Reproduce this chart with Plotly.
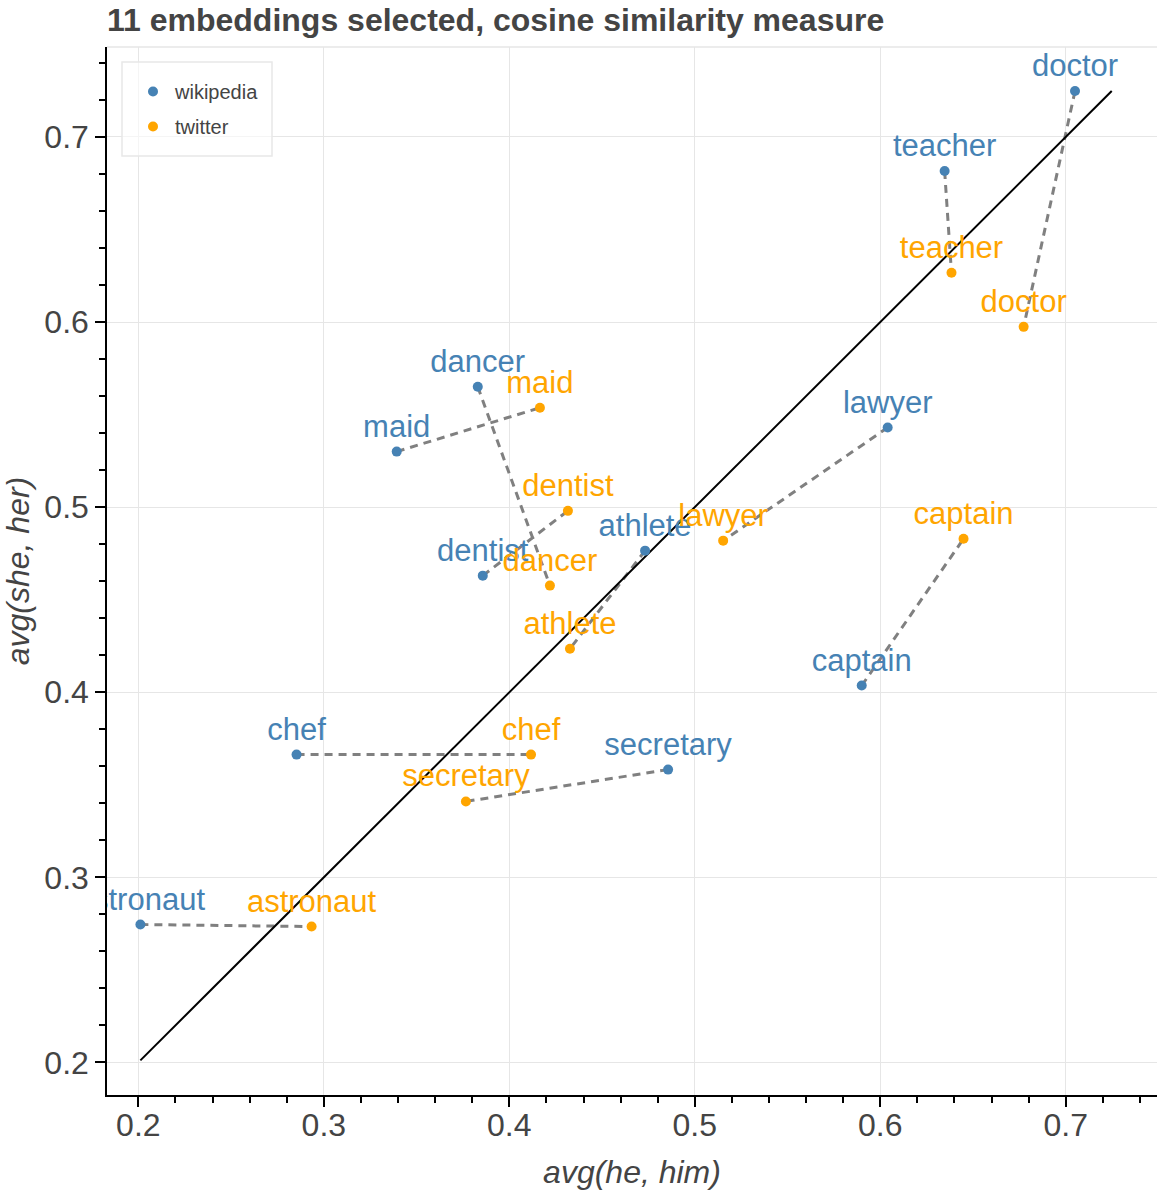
import plotly.graph_objects as go

words = ["doctor", "teacher", "dancer", "maid", "lawyer", "athlete", "dentist",
         "captain", "chef", "secretary", "astronaut"]

wiki_he = [0.705, 0.6347, 0.383, 0.3393, 0.604, 0.4732, 0.3857, 0.590, 0.2853, 0.4856, 0.2011]
wiki_she = [0.7248, 0.6816, 0.565, 0.530, 0.543, 0.4765, 0.463, 0.4036, 0.3663, 0.3582, 0.2745]

tw_he = [0.6773, 0.6384, 0.4219, 0.4165, 0.5153, 0.4327, 0.4316, 0.6449, 0.4117, 0.3766, 0.2934]
tw_she = [0.5974, 0.6266, 0.4576, 0.5537, 0.4819, 0.4235, 0.498, 0.4829, 0.3663, 0.341, 0.2734]

x_ticks = [0.2, 0.3, 0.4, 0.5, 0.6, 0.7]
y_ticks = [0.2, 0.3, 0.4, 0.5, 0.6, 0.7]

FONT = "Liberation Sans, Arial, sans-serif"
TXT = "#444444"
BLUE = "#4682b4"
ORANGE = "#ffa500"

W, H = 1157, 1194
ML, MR, MT, MB = 107, 0, 47, 99
PW, PH = W - ML - MR, H - MT - MB

# connecting segments
seg_x, seg_y = [], []
for a, b, c, d in zip(wiki_he, tw_he, wiki_she, tw_she):
    seg_x += [a, b, None]
    seg_y += [c, d, None]

allv = wiki_he + wiki_she + tw_he + tw_she
lo, hi = min(allv), max(allv)

fig = go.Figure()
fig.add_trace(go.Scatter(x=seg_x, y=seg_y, mode="lines", showlegend=False,
                         line=dict(color="#808080", width=3, dash="8px,6px"),
                         hoverinfo="skip"))
fig.add_trace(go.Scatter(x=[lo, hi], y=[lo, hi], mode="lines", showlegend=False,
                         line=dict(color="black", width=2), hoverinfo="skip"))
fig.add_trace(go.Scatter(x=wiki_he, y=wiki_she, mode="markers+text", name="wikipedia",
                         legendgroup="w",
                         text=words, textposition="top center", cliponaxis=True,
                         textfont=dict(family=FONT, size=31, color=BLUE),
                         marker=dict(color=BLUE, size=10)))
fig.add_trace(go.Scatter(x=tw_he, y=tw_she, mode="markers+text", name="twitter",
                         legendgroup="t",
                         text=words, textposition="top center", cliponaxis=True,
                         textfont=dict(family=FONT, size=31, color=ORANGE),
                         marker=dict(color=ORANGE, size=10)))

axis_common = dict(
    showgrid=True, gridcolor="#e6e6e6", gridwidth=1,
    zeroline=False, showline=True, linecolor="black", linewidth=1.5,
    ticks="outside", ticklen=10, tickwidth=1.5, tickcolor="black",
    tickfont=dict(family=FONT, size=32, color=TXT),
    minor=dict(dtick=0.02, ticks="outside", ticklen=6, tickwidth=1.5,
               tickcolor="black", showgrid=False),
)

fig.update_layout(
    width=W, height=H,
    margin=dict(l=ML, r=MR, t=MT, b=MB),
    paper_bgcolor="white", plot_bgcolor="white",
    font=dict(family=FONT, color=TXT),
    title=dict(text="<b>11 embeddings selected, cosine similarity measure</b>",
               x=ML / W, xanchor="left", xref="container",
               y=1 - 20 / H, yanchor="middle", yref="container",
               font=dict(family=FONT, size=32, color=TXT)),
    xaxis=dict(range=[0.1831, 0.7492], tickvals=x_ticks,
               ticktext=[f"{v:.1f}" for v in x_ticks],
               ticklabelstandoff=-9,
               title=dict(text="<i>avg(he, him)</i>", standoff=18,
                          font=dict(family=FONT, size=32, color=TXT)),
               **axis_common),
    yaxis=dict(range=[0.1824, 0.7486], tickvals=y_ticks,
               ticktext=[f"{v:.1f}" for v in y_ticks],
               title=dict(text="<i>avg(she, her)</i>", standoff=6,
                          font=dict(family=FONT, size=32, color=TXT)),
               **axis_common),
    legend=dict(x=(131 - ML) / PW, y=1 - (72 - MT) / PH, xanchor="left", yanchor="top",
                bgcolor="rgba(0,0,0,0)", borderwidth=0,
                font=dict(family=FONT, size=20, color=TXT),
                tracegroupgap=6, itemwidth=34),
    showlegend=True,
)

# legend frame
fig.add_shape(type="rect", xref="paper", yref="paper",
              x0=(122 - ML) / PW, x1=(272 - ML) / PW,
              y0=1 - (156 - MT) / PH, y1=1 - (62 - MT) / PH,
              line=dict(color="#e8e8e8", width=1.5),
              fillcolor="rgba(255,255,255,0.6)", layer="above")

fig.add_shape(type="line", xref="paper", yref="paper", x0=0, x1=1, y0=1, y1=1,
              line=dict(color="#e6e6e6", width=1.5), layer="below")

fig.write_html("out.html")
